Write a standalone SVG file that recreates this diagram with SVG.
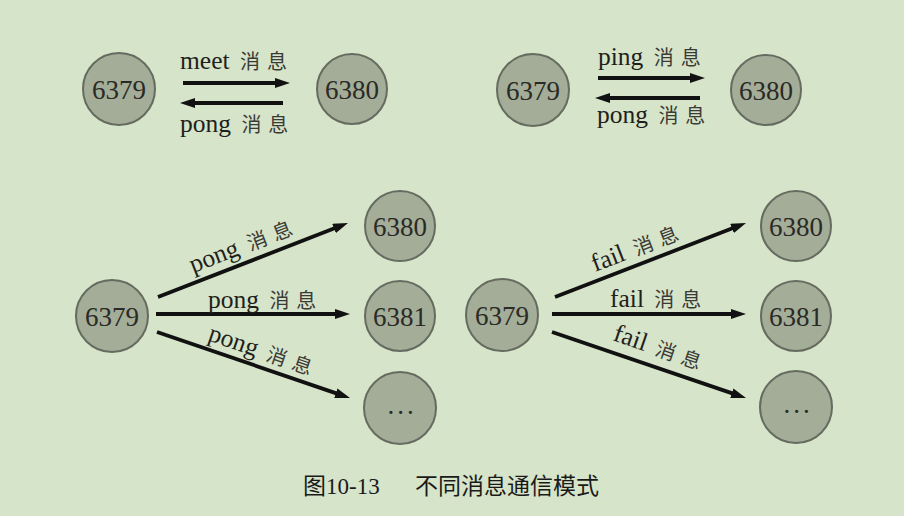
<svg xmlns="http://www.w3.org/2000/svg" width="904" height="516" viewBox="0 0 904 516">
<style>
.bg{fill:#d6e4c9}
.node circle{fill:#a4ad98;stroke:#666b60;stroke-width:2}
.num{font-family:"Liberation Serif","Noto Sans CJK SC",serif;font-size:27px;fill:#2a2a26;text-anchor:middle}
.dots{letter-spacing:3px}
.lbl{font-family:"Liberation Serif","Noto Sans CJK SC",serif;font-size:25.5px;fill:#1f1f1c}
.cjk{font-family:"Noto Sans CJK SC",sans-serif;font-size:20px;letter-spacing:7px;fill:#3a3a36}
.edge line{stroke:#111;stroke-width:3.8;marker-end:url(#ah)}
.cap{font-family:"Liberation Serif","Noto Sans CJK SC",serif;font-size:23px;fill:#1a1a1a}
</style>
<defs>
<marker id="ah" viewBox="0 0 15 10" refX="6" refY="5" markerWidth="15" markerHeight="10" markerUnits="userSpaceOnUse" orient="auto">
<path d="M0,0 L15,5 L0,10 z" fill="#111"/>
</marker>
</defs>
<rect class="bg" x="0" y="0" width="904" height="516"/>

<g id="tl-6379" class="node"><circle cx="119" cy="89" r="36"/><text class="num" x="119" y="99">6379</text></g>
<g id="tl-6380" class="node"><circle cx="352" cy="89" r="35"/><text class="num" x="352" y="99">6380</text></g>
<g id="tr-6379" class="node"><circle cx="533" cy="90" r="36"/><text class="num" x="533" y="100">6379</text></g>
<g id="tr-6380" class="node"><circle cx="766" cy="90" r="35"/><text class="num" x="766" y="100">6380</text></g>

<g id="bl-6379" class="node"><circle cx="112" cy="316" r="36"/><text class="num" x="112" y="326">6379</text></g>
<g id="bl-6380" class="node"><circle cx="400" cy="226" r="35"/><text class="num" x="400" y="236">6380</text></g>
<g id="bl-6381" class="node"><circle cx="400" cy="316" r="35"/><text class="num" x="400" y="326">6381</text></g>
<g id="bl-more" class="node"><circle cx="400" cy="408" r="36"/><text class="num dots" x="402" y="414">...</text></g>

<g id="br-6379" class="node"><circle cx="502" cy="315" r="36"/><text class="num" x="502" y="325">6379</text></g>
<g id="br-6380" class="node"><circle cx="796" cy="226" r="35"/><text class="num" x="796" y="236">6380</text></g>
<g id="br-6381" class="node"><circle cx="796" cy="316" r="35"/><text class="num" x="796" y="326">6381</text></g>
<g id="br-more" class="node"><circle cx="796" cy="407" r="36"/><text class="num dots" x="798" y="413">...</text></g>

<g id="connectors" class="edge">
<line x1="183" y1="83" x2="281" y2="83"/>
<line x1="283" y1="103" x2="189" y2="103"/>
<line x1="598" y1="78" x2="696" y2="78"/>
<line x1="700" y1="98" x2="604" y2="98"/>
<line x1="158" y1="297" x2="339.6" y2="226.3"/>
<line x1="156" y1="314" x2="341" y2="314"/>
<line x1="157" y1="332" x2="341.5" y2="395.1"/>
<line x1="555" y1="297" x2="737.6" y2="226.3"/>
<line x1="552" y1="314" x2="737" y2="314"/>
<line x1="552" y1="332" x2="737.5" y2="395.1"/>
</g>

<g id="labels">
<text class="lbl" x="180" y="69">meet <tspan class="cjk" dx="4">消息</tspan></text>
<text class="lbl" x="180" y="132">pong <tspan class="cjk" dx="4">消息</tspan></text>
<text class="lbl" x="598" y="65">ping <tspan class="cjk" dx="4">消息</tspan></text>
<text class="lbl" x="597" y="123">pong <tspan class="cjk" dx="4">消息</tspan></text>
<text class="lbl" transform="translate(193,273) rotate(-21)">pong <tspan class="cjk" dx="4">消息</tspan></text>
<text class="lbl" x="208" y="308">pong <tspan class="cjk" dx="4">消息</tspan></text>
<text class="lbl" transform="translate(207,340) rotate(19)">pong <tspan class="cjk" dx="4">消息</tspan></text>
<text class="lbl" transform="translate(595,272) rotate(-21)">fail <tspan class="cjk" dx="4">消息</tspan></text>
<text class="lbl" x="610" y="307">fail <tspan class="cjk" dx="4">消息</tspan></text>
<text class="lbl" transform="translate(612,340) rotate(19)">fail <tspan class="cjk" dx="4">消息</tspan></text>
</g>

<text class="cap" x="303" y="494">图10-13<tspan x="415">不同消息通信模式</tspan></text>
</svg>
